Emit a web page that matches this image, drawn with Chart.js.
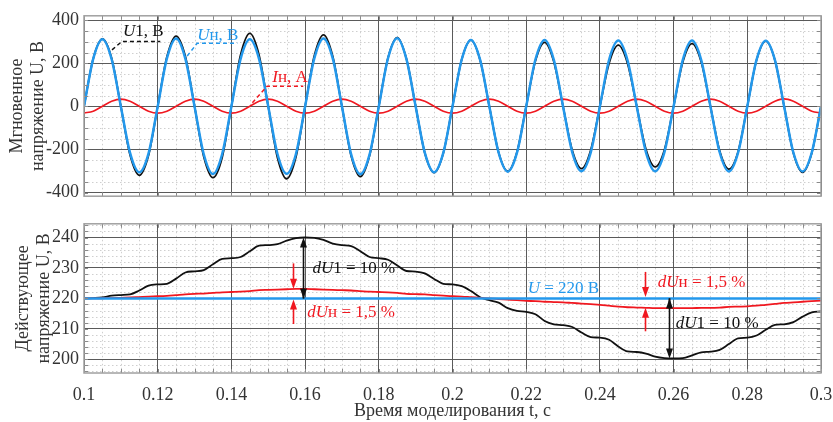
<!DOCTYPE html>
<html>
<head>
<meta charset="utf-8">
<script src="https://cdn.jsdelivr.net/npm/chart.js@4.4.0/dist/chart.umd.min.js"></script>
<style>
  html, body { margin: 0; padding: 0; background: #fff; }
  #wrap { position: relative; width: 833px; height: 422px; }
  #top { position: absolute; left: 0; top: 0; }
  #bot { position: absolute; left: 0; top: 208px; }
</style>
</head>
<body>
<div id="wrap">
  <canvas id="top" width="833" height="212"></canvas>
  <canvas id="bot" width="833" height="214"></canvas>
</div>
<script>
// time samples, s
const time = [
  0.1, 0.1025, 0.105, 0.1075, 0.11, 0.1125, 0.115, 0.1175,
  0.12, 0.1225, 0.125, 0.1275, 0.13, 0.1325, 0.135, 0.1375,
  0.14, 0.1425, 0.145, 0.1475, 0.15, 0.1525, 0.155, 0.1575,
  0.16, 0.1625, 0.165, 0.1675, 0.17, 0.1725, 0.175, 0.1775,
  0.18, 0.1825, 0.185, 0.1875, 0.19, 0.1925, 0.195, 0.1975,
  0.2, 0.2025, 0.205, 0.2075, 0.21, 0.2125, 0.215, 0.2175,
  0.22, 0.2225, 0.225, 0.2275, 0.23, 0.2325, 0.235, 0.2375,
  0.24, 0.2425, 0.245, 0.2475, 0.25, 0.2525, 0.255, 0.2575,
  0.26, 0.2625, 0.265, 0.2675, 0.27, 0.2725, 0.275, 0.2775,
  0.28, 0.2825, 0.285, 0.2875, 0.29, 0.2925, 0.295, 0.2975,
  0.3
];

// instantaneous source voltage U1, V
const u1Inst = [
  0, 222, 314, 224, 0, -226, -320, -228,
  0, 231, 327, 233, 0, -234, -331, -237,
  0, 240, 339, 239, 0, -238, -336, -236,
  0, 235, 332, 233, 0, -230, -326, -228,
  0, 226, 320, 221, 0, -217, -307, -217,
  0, 218, 308, 215, 0, -213, -301, -212,
  0, 211, 298, 207, 0, -204, -289, -203,
  0, 201, 285, 200, 0, -199, -281, -202,
  0, 206, 292, 206, 0, -206, -291, -210,
  0, 214, 303, 215, 0, -216, -306, -216,
  0
];

// instantaneous load voltage Uн, V
const unInst = [
  0, 221, 312, 219, 0, -216, -306, -219,
  0, 223, 316, 222, 0, -222, -314, -221,
  0, 221, 312, 221, 0, -221, -313, -222,
  0, 223, 316, 223, 0, -223, -315, -223,
  0, 224, 317, 220, 0, -216, -306, -216,
  0, 218, 309, 216, 0, -214, -303, -215,
  0, 218, 309, 216, 0, -213, -301, -215,
  0, 217, 306, 214, 0, -213, -301, -213,
  0, 216, 306, 215, 0, -213, -302, -215,
  0, 216, 305, 215, 0, -214, -302, -214,
  0
];

// load current Iн, A
const inInst = [
  -31, -22, 1, 24, 34, 24, 1, -22,
  -31, -22, 1, 24, 34, 24, 1, -22,
  -31, -22, 1, 24, 34, 24, 1, -22,
  -31, -22, 1, 24, 34, 24, 1, -22,
  -31, -22, 1, 24, 34, 24, 1, -22,
  -31, -22, 1, 24, 34, 24, 1, -22,
  -31, -22, 1, 24, 34, 24, 1, -22,
  -31, -22, 1, 24, 34, 24, 1, -22,
  -31, -22, 1, 24, 34, 24, 1, -22,
  -31, -22, 1, 24, 35, 24, 1, -22,
  -31
];

// RMS source voltage U1, V
const u1Rms = [
  220.0, 220.1, 220.3, 220.9, 221.1, 221.3, 222.6, 224.2,
  224.6, 224.8, 226.5, 228.5, 228.9, 229.3, 231.2, 233.0,
  233.2, 233.6, 235.5, 237.3, 237.5, 237.8, 239.0, 239.8,
  240.0, 239.9, 239.2, 238.0, 237.5, 237.2, 235.5, 233.6,
  233.2, 232.7, 230.8, 229.0, 228.8, 228.2, 226.4, 224.8,
  224.6, 224.0, 222.4, 220.4, 219.4, 218.6, 216.8, 215.9,
  215.6, 214.8, 212.6, 211.5, 211.2, 210.6, 208.8, 207.3,
  207.1, 206.4, 204.2, 202.6, 202.4, 201.9, 200.9, 200.4,
  200.3, 200.4, 201.3, 202.3, 202.5, 203.1, 205.0, 206.9,
  207.1, 207.8, 209.7, 211.3, 211.5, 212.2, 214.0, 215.4,
  215.7
];

// RMS load voltage Uн, V
const unRms = [
  220.0, 220.0, 220.05, 220.1, 220.2, 220.3, 220.45, 220.6,
  220.7, 220.85, 221.1, 221.35, 221.5, 221.6, 221.8, 222.0,
  222.1, 222.2, 222.4, 222.7, 222.8, 222.9, 223.0, 223.1,
  223.1, 223.0, 222.9, 222.8, 222.7, 222.6, 222.4, 222.2,
  222.1, 222.0, 221.8, 221.5, 221.4, 221.3, 221.1, 220.9,
  220.7, 220.6, 220.4, 220.2, 220.0, 219.8, 219.6, 219.4,
  219.2, 219.1, 218.9, 218.8, 218.7, 218.5, 218.3, 218.1,
  217.9, 217.6, 217.3, 217.1, 217.0, 216.9, 216.8, 216.8,
  216.8, 216.8, 216.8, 216.9, 216.9, 217.0, 217.2, 217.3,
  217.4, 217.6, 217.9, 218.2, 218.5, 218.7, 218.9, 219.1,
  219.3
];

// nominal voltage line
const nominalTime = [0.1, 0.3];
const nominalU = [220, 220];

const xTicks = [0.1, 0.12, 0.14, 0.16, 0.18, 0.2, 0.22, 0.24, 0.26, 0.28, 0.3];
const yTicksTop = [-400, -200, 0, 200, 400];
const yTicksBot = [200, 210, 220, 230, 240];

const SERIF = '"Liberation Serif", "Times New Roman", serif';
const BLACK = '#111111';
const BLUE = '#2398ec';
const RED = '#f01820';
const TEXT = '#333333';

function pts(xs, ys) {
  return xs.map((x, i) => ({ x: x, y: ys[i] }));
}

function line(ctx, x1, y1, x2, y2) {
  ctx.beginPath();
  ctx.moveTo(x1, y1);
  ctx.lineTo(x2, y2);
  ctx.stroke();
}

function isMajor(v, major) {
  const r = v / major;
  return Math.abs(r - Math.round(r)) < 1e-6;
}

// dotted minor grid (under the major grid), frame and inward tick marks
const frameGrid = {
  id: 'frameGrid',
  beforeDraw(chart, args, o) {
    const { ctx, chartArea: a, scales: { x, y } } = chart;
    ctx.save();
    ctx.strokeStyle = '#cfcfcf';
    ctx.lineWidth = 1;
    ctx.setLineDash([1.5, 2.5]);
    for (let k = 1; x.min + k * o.xStep < x.max - 1e-9; k++) {
      const v = x.min + k * o.xStep;
      if (isMajor(v, o.xMajor)) continue;
      const px = Math.round(x.getPixelForValue(v)) + 0.5;
      line(ctx, px, a.top, px, a.bottom);
    }
    const y0 = Math.ceil(y.min / o.yStep);
    for (let k = y0; k * o.yStep <= y.max; k++) {
      const v = k * o.yStep;
      if (isMajor(v, o.yMajor)) continue;
      const py = Math.round(y.getPixelForValue(v)) + 0.5;
      line(ctx, a.left, py, a.right, py);
    }
    ctx.restore();
  },
  afterDatasetsDraw(chart, args, o) {
    const { ctx, chartArea: a, scales: { x, y } } = chart;
    ctx.save();
    ctx.strokeStyle = '#8a8a8a';
    ctx.lineWidth = 1;
    for (let k = 0; x.min + k * o.xStep <= x.max + 1e-9; k++) {
      const px = Math.round(x.getPixelForValue(x.min + k * o.xStep)) + 0.5;
      line(ctx, px, a.bottom, px, a.bottom - 4);
      line(ctx, px, a.top, px, a.top + 4);
    }
    const y0 = Math.ceil(y.min / o.yStep);
    for (let k = y0; k * o.yStep <= y.max; k++) {
      const py = Math.round(y.getPixelForValue(k * o.yStep)) + 0.5;
      line(ctx, a.left, py, a.left + 4, py);
      line(ctx, a.right, py, a.right - 4, py);
    }
    ctx.strokeStyle = '#a0a0a0';
    ctx.lineWidth = 1.5;
    ctx.strokeRect(a.left, a.top, a.right - a.left, a.bottom - a.top);
    ctx.restore();
  }
};

function drawParts(ctx, x, y, parts, color) {
  let cx = x;
  ctx.fillStyle = color;
  ctx.textAlign = 'left';
  ctx.textBaseline = 'middle';
  parts.forEach(([s, it]) => {
    ctx.font = (it ? 'italic ' : '') + '17px ' + SERIF;
    ctx.fillText(s, cx, y);
    cx += ctx.measureText(s).width;
  });
}

function arrowHead(ctx, x, yTip, dir) {
  ctx.beginPath();
  ctx.moveTo(x, yTip);
  ctx.lineTo(x - 3.5, yTip - dir * 10);
  ctx.lineTo(x + 3.5, yTip - dir * 10);
  ctx.closePath();
  ctx.fill();
}

// labels, leaders and arrows, placed in data units
const notes = {
  id: 'notes',
  afterDatasetsDraw(chart, args, o) {
    const { ctx, scales: { x, y } } = chart;
    ctx.save();
    o.items.forEach(it => {
      ctx.strokeStyle = it.color;
      ctx.fillStyle = it.color;
      if (it.kind === 'text') {
        drawParts(ctx, x.getPixelForValue(it.t), y.getPixelForValue(it.v), it.parts, it.color);
      } else if (it.kind === 'leader') {
        ctx.lineWidth = 1.5;
        ctx.setLineDash([4, 3]);
        ctx.beginPath();
        it.pts.forEach(([t, v], i) => {
          const px = x.getPixelForValue(t), py = y.getPixelForValue(v);
          if (i === 0) ctx.moveTo(px, py); else ctx.lineTo(px, py);
        });
        ctx.stroke();
        ctx.setLineDash([]);
      } else if (it.kind === 'arrow') {
        const px = Math.round(x.getPixelForValue(it.t)) + 0.5;
        const y1 = y.getPixelForValue(it.from), y2 = y.getPixelForValue(it.to);
        const dir = y2 > y1 ? 1 : -1;
        ctx.lineWidth = 1.6;
        line(ctx, px, y1, px, y2 - dir * 4);
        arrowHead(ctx, px, y2, dir);
        if (it.both) {
          line(ctx, px, y1, px, y1 + dir * 4);
          arrowHead(ctx, px, y1, -dir);
        }
      }
    });
    ctx.restore();
  }
};

function xAxis(labels, height) {
  return {
    type: 'linear', min: 0.1, max: 0.3,
    afterBuildTicks: s => { s.ticks = xTicks.map(v => ({ value: v })); },
    afterFit: s => { s.height = height; s.paddingLeft = 0; s.paddingRight = 0; },
    grid: { color: '#5a5a5a', lineWidth: 1, drawTicks: true, tickLength: 11, tickColor: 'rgba(0,0,0,0)' },
    border: { display: false },
    ticks: {
      display: labels, autoSkip: false, maxRotation: 0, padding: 0,
      font: { family: SERIF, size: 18 }, color: TEXT,
      callback: v => String(+v.toFixed(2))
    },
    title: {
      display: labels, text: 'Время моделирования t, с',
      font: { family: SERIF, size: 18 }, color: TEXT, padding: { top: 0, bottom: 0 }
    }
  };
}

function yAxis(min, max, ticks, title, titlePad) {
  return {
    type: 'linear', min: min, max: max,
    afterBuildTicks: s => { s.ticks = ticks.map(v => ({ value: v })); },
    afterFit: s => { s.width = 84; },
    grid: { color: '#5a5a5a', lineWidth: 1, drawTicks: false },
    border: { display: false },
    ticks: { padding: 5, font: { family: SERIF, size: 18 }, color: TEXT },
    title: {
      display: true, text: title,
      font: { family: SERIF, size: 18 }, color: TEXT, padding: { top: titlePad, bottom: 0 }
    }
  };
}

function lineSet(data, color, width) {
  return {
    data: data, borderColor: color, borderWidth: width,
    pointRadius: 0, fill: false, cubicInterpolationMode: 'monotone'
  };
}

new Chart(document.getElementById('top'), {
  type: 'line',
  data: {
    datasets: [
      lineSet(pts(time, unInst), BLUE, 2.5),
      lineSet(pts(time, inInst), RED, 1.6),
      lineSet(pts(time, u1Inst), BLACK, 1.8)
    ]
  },
  options: {
    responsive: false, animation: false,
    layout: { padding: { left: 0, right: 12, top: 6, bottom: 0 } },
    scales: {
      x: xAxis(false, 9),
      y: yAxis(-417, 421, yTicksTop, ['Мгновенное', 'напряжение U, В'], 6)
    },
    plugins: {
      legend: { display: false }, tooltip: { enabled: false },
      frameGrid: { xStep: 0.005, xMajor: 0.02, yStep: 50, yMajor: 200 },
      notes: {
        items: [
          { kind: 'leader', color: BLACK, pts: [[0.1076, 263], [0.1103, 302], [0.1207, 302]] },
          { kind: 'text', color: BLACK, t: 0.1106, v: 346, parts: [['U', true], ['1, В', false]] },
          { kind: 'leader', color: BLUE, pts: [[0.128, 234], [0.1307, 293], [0.1416, 293]] },
          { kind: 'text', color: BLUE, t: 0.1307, v: 329, parts: [['U', true], ['н, В', false]] },
          { kind: 'leader', color: RED, pts: [[0.1457, 17], [0.1497, 94], [0.1595, 94]] },
          { kind: 'text', color: RED, t: 0.1511, v: 136, parts: [['I', true], ['н, А', false]] }
        ]
      }
    }
  },
  plugins: [frameGrid, notes]
});

new Chart(document.getElementById('bot'), {
  type: 'line',
  data: {
    datasets: [
      lineSet(pts(nominalTime, nominalU), BLUE, 2.5),
      lineSet(pts(time, unRms), RED, 1.8),
      lineSet(pts(time, u1Rms), BLACK, 1.8)
    ]
  },
  options: {
    responsive: false, animation: false,
    layout: { padding: { left: 0, right: 12, top: 8, bottom: 0 } },
    scales: {
      x: xAxis(true, 49),
      y: yAxis(195.5, 244.5, yTicksBot, ['Действующее', 'напряжение U, В'], 12)
    },
    plugins: {
      legend: { display: false }, tooltip: { enabled: false },
      frameGrid: { xStep: 0.005, xMajor: 0.02, yStep: 2, yMajor: 10 },
      notes: {
        items: [
          { kind: 'arrow', color: BLACK, t: 0.1595, from: 220, to: 240, both: true },
          { kind: 'text', color: BLACK, t: 0.162, v: 229.9, parts: [['dU', true], ['1 = 10 %', false]] },
          { kind: 'arrow', color: RED, t: 0.1568, from: 231.5, to: 223.2 },
          { kind: 'arrow', color: RED, t: 0.1568, from: 211.6, to: 219.6 },
          { kind: 'text', color: RED, t: 0.1606, v: 215.4, parts: [['dU', true], ['н = 1,5 %', false]] },
          { kind: 'text', color: BLUE, t: 0.2204, v: 223.1, parts: [['U', true], [' = 220 В', false]] },
          { kind: 'arrow', color: RED, t: 0.2522, from: 228.7, to: 220.5 },
          { kind: 'arrow', color: RED, t: 0.2522, from: 209.2, to: 216.9 },
          { kind: 'text', color: RED, t: 0.2557, v: 225.3, parts: [['dU', true], ['н = 1,5 %', false]] },
          { kind: 'arrow', color: BLACK, t: 0.2587, from: 220, to: 200.3, both: true },
          { kind: 'text', color: BLACK, t: 0.2606, v: 211.6, parts: [['dU', true], ['1 = 10 %', false]] }
        ]
      }
    }
  },
  plugins: [frameGrid, notes]
});
</script>
</body>
</html>
